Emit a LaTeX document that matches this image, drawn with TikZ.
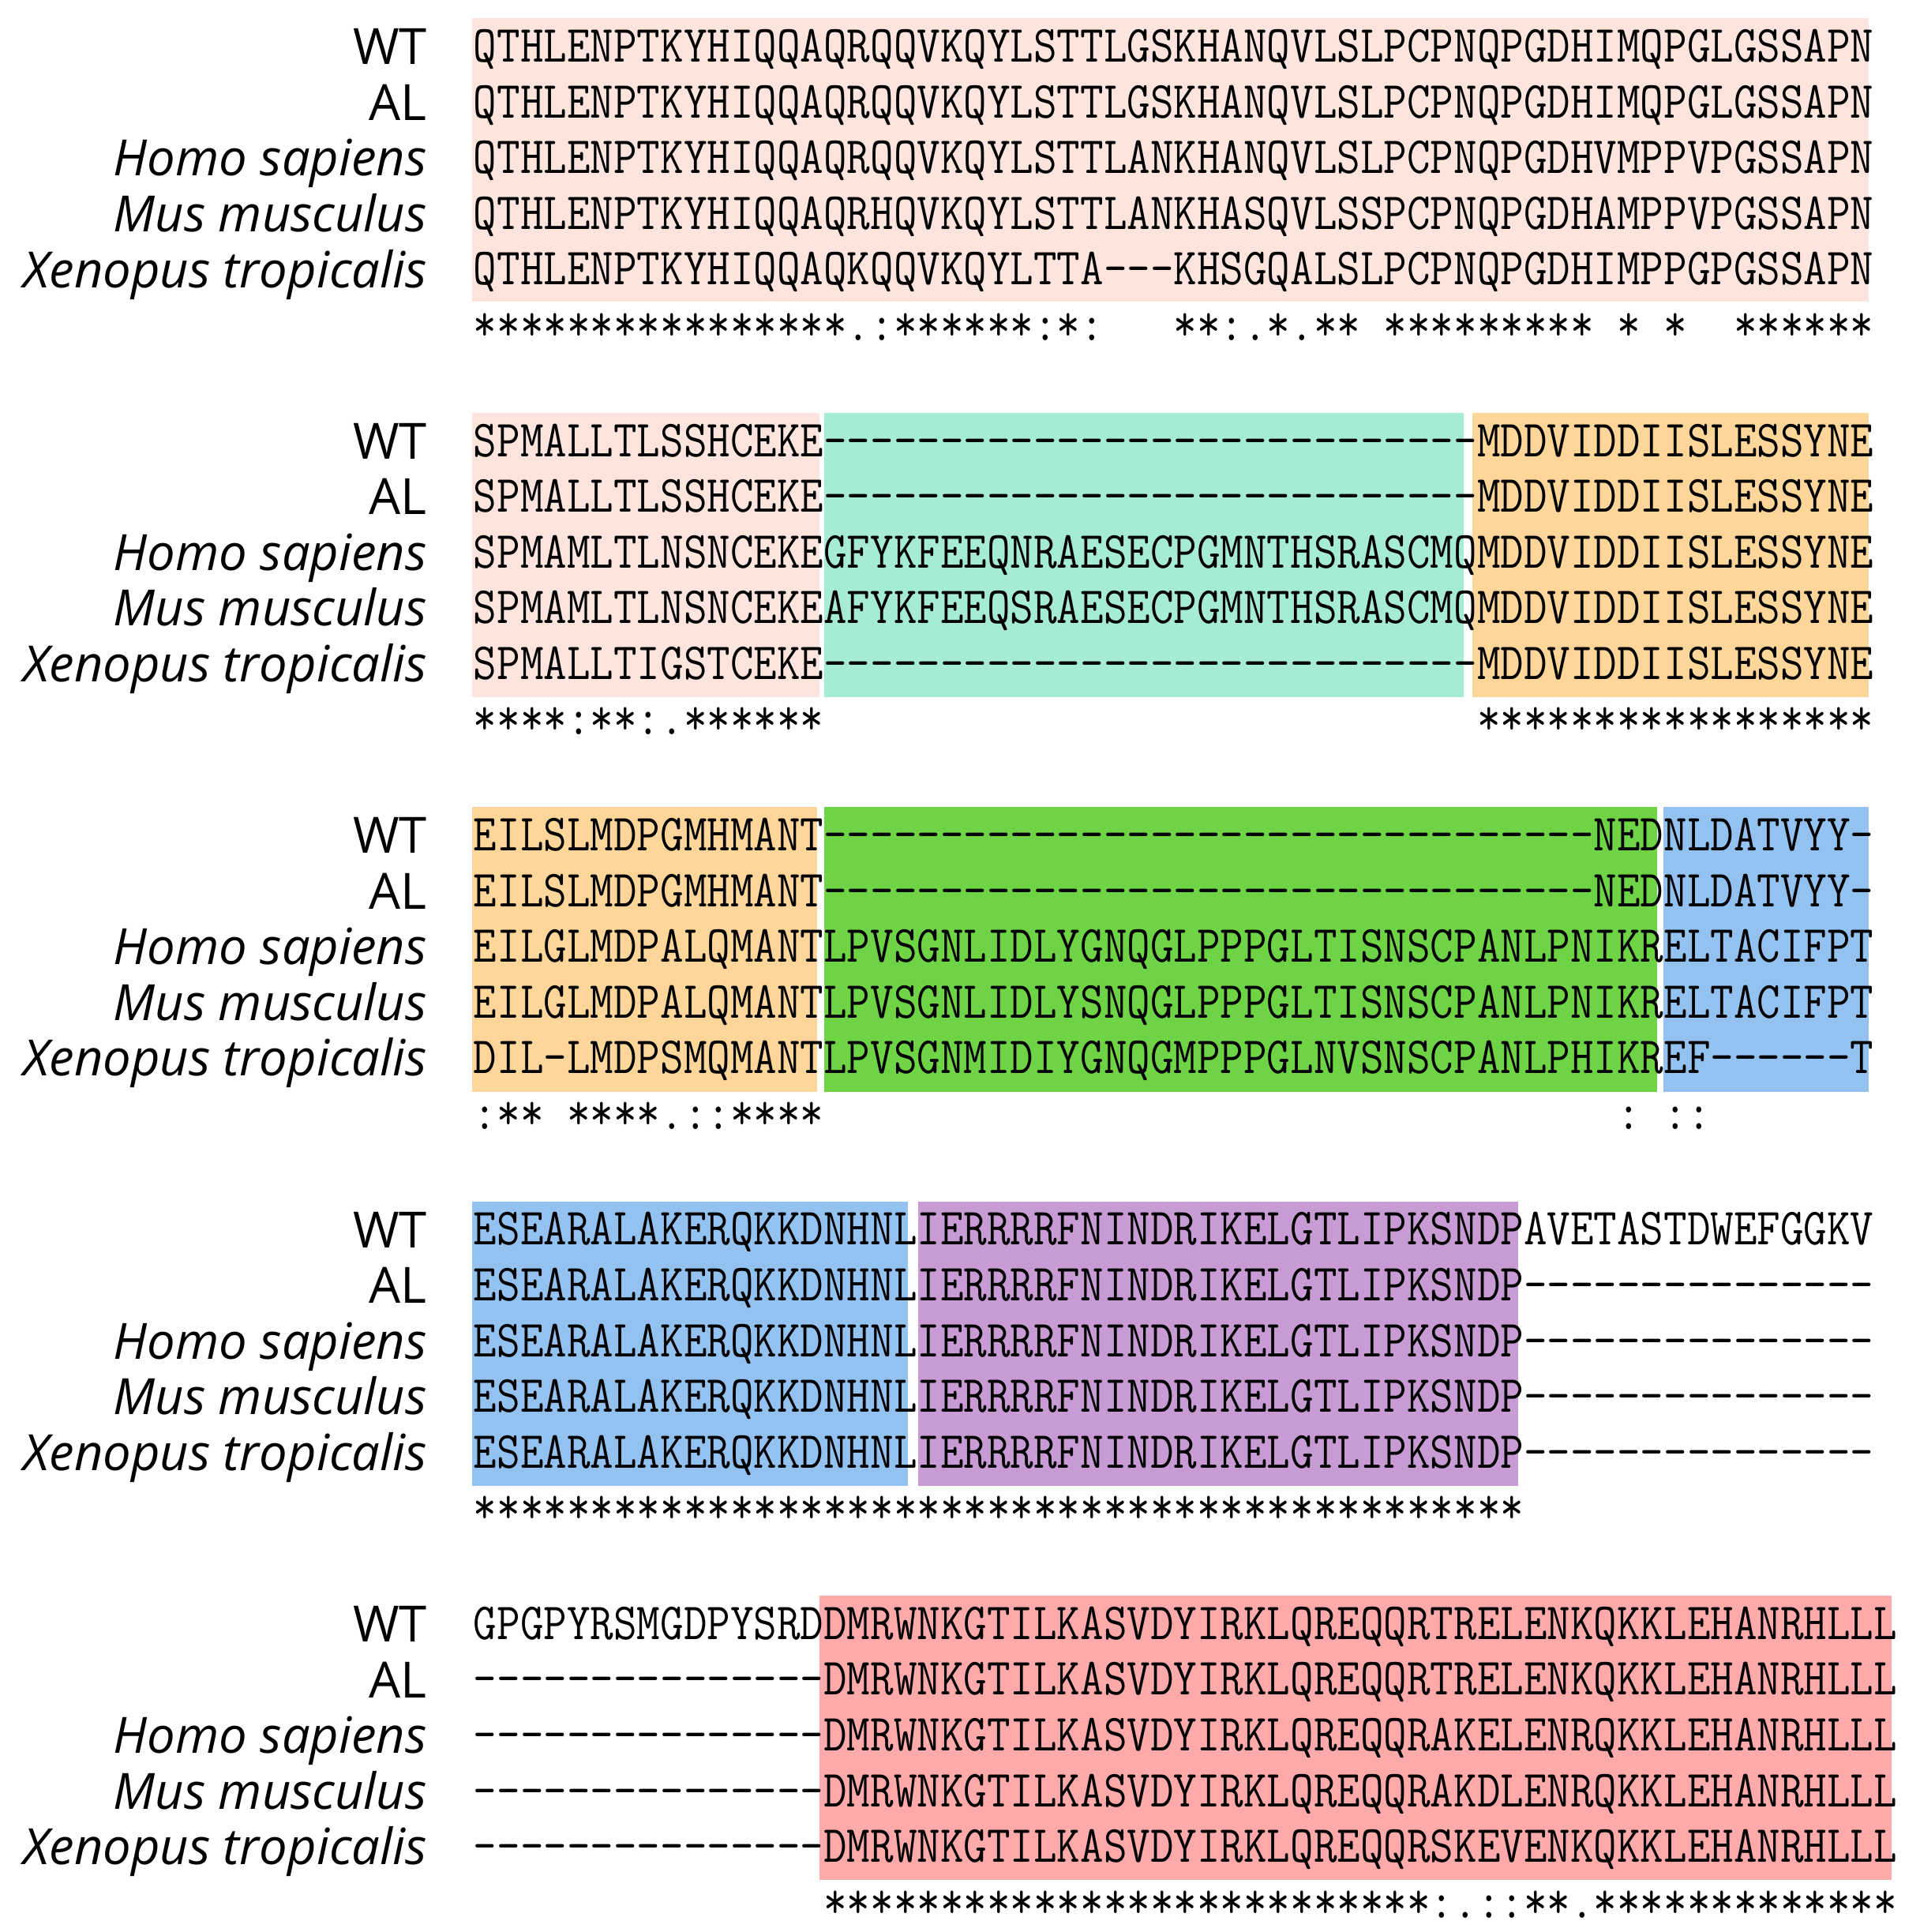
\documentclass[tikz,border=0pt]{standalone}
\usepackage{fontspec}
\newfontfamily\labelfont{Open Sans}
\newfontfamily\seqfont{lmmono12-regular.otf}[FakeStretch=0.868]
\usetikzlibrary{positioning}
\definecolor{pinkbox}{RGB}{253,229,222}
\definecolor{tealbox}{RGB}{166,235,214}
\definecolor{orangebox}{RGB}{255,214,153}
\definecolor{greenbox}{RGB}{110,212,70}
\definecolor{bluebox}{RGB}{148,194,240}
\definecolor{purplebox}{RGB}{200,155,212}
\definecolor{redbox}{RGB}{255,170,170}
% runs of gaps, blanks and stars
\newcommand{\gapn}[1]{\foreach \i in {1,...,#1}{-}}
\newcommand{\skipn}[1]{\foreach \i in {1,...,#1}{~}}
\newcommand{\starn}[1]{\foreach \i in {1,...,#1}{*}}

\begin{document}
\begin{tikzpicture}[x=0.0156cm,y=-0.0156cm,
    seq/.style={anchor=base west,inner sep=0pt,font=\fontsize{18.8}{19}\selectfont\seqfont},
    lab/.style={anchor=base east,inner sep=0pt,font=\fontsize{18}{18}\selectfont\labelfont},
    sp/.style={font=\fontsize{18}{18}\selectfont\labelfont\itshape}]
  \useasboundingbox (0,0) rectangle (1546,1568);

  % domain boxes
  \fill[pinkbox] (383,15) rectangle (1517,245);
  \fill[pinkbox] (383,335) rectangle (665,566);
  \fill[tealbox] (669,335) rectangle (1188,566);
  \fill[orangebox] (1195,335) rectangle (1517,566);
  \fill[orangebox] (383,655) rectangle (663,886);
  \fill[greenbox] (669,655) rectangle (1345,886);
  \fill[bluebox] (1350,655) rectangle (1517,886);
  \fill[bluebox] (383,975) rectangle (737,1206);
  \fill[purplebox] (745,975) rectangle (1232,1206);
  \fill[redbox] (665,1295) rectangle (1535,1526);

  % row names
  \foreach \b in {1,...,5}{
    \pgfmathsetmacro{\yb}{38+320*(\b-1)}
    \node[lab] (wt\b) at (347,{\yb+14.5}) {WT};
    \node[lab] (al\b) at (347,{\yb+59.7}) {AL};
    \node[lab,sp] (hs\b) at (347,{\yb+104.9}) {Homo sapiens};
    \node[lab,sp] (mm\b) at (347,{\yb+150.1}) {Mus musculus};
    \node[lab,sp] (xt\b) at (347,{\yb+195.3}) {Xenopus tropicalis};
  }

  % block 1
  \foreach \s [count=\k from 0] in {
      QTHLENPTKYHIQQAQRQQVKQYLSTTLGSKHANQVLSLPCPNQPGDHIMQPGLGSSAPN,
      QTHLENPTKYHIQQAQRQQVKQYLSTTLGSKHANQVLSLPCPNQPGDHIMQPGLGSSAPN,
      QTHLENPTKYHIQQAQRQQVKQYLSTTLANKHANQVLSLPCPNQPGDHVMPPVPGSSAPN,
      QTHLENPTKYHIQQAQRHQVKQYLSTTLANKHASQVLSSPCPNQPGDHAMPPVPGSSAPN,
      QTHLENPTKYHIQQAQKQQVKQYLTTA\gapn{3}KHSGQALSLPCPNQPGDHIMPPGPGSSAPN,
      \starn{16}.:\starn{6}:*:\skipn{3}**:.*.**~\starn{9}~*~*~~\starn{6}}
    \node[seq] (a\k) at (384,{38+45.2*\k+12.5}) {\s};

  % block 2
  \foreach \s [count=\k from 0] in {
      SPMALLTLSSHCEKE\gapn{28}MDDVIDDIISLESSYNE,
      SPMALLTLSSHCEKE\gapn{28}MDDVIDDIISLESSYNE,
      SPMAMLTLNSNCEKEGFYKFEEQNRAESECPGMNTHSRASCMQMDDVIDDIISLESSYNE,
      SPMAMLTLNSNCEKEAFYKFEEQSRAESECPGMNTHSRASCMQMDDVIDDIISLESSYNE,
      SPMALLTIGSTCEKE\gapn{28}MDDVIDDIISLESSYNE,
      ****:**:.******\skipn{28}\starn{17}}
    \node[seq] (b\k) at (384,{358+45.2*\k+12.5}) {\s};

  % block 3
  \foreach \s [count=\k from 0] in {
      EILSLMDPGMHMANT\gapn{33}NEDNLDATVYY-,
      EILSLMDPGMHMANT\gapn{33}NEDNLDATVYY-,
      EILGLMDPALQMANTLPVSGNLIDLYGNQGLPPPGLTISNSCPANLPNIKRELTACIFPT,
      EILGLMDPALQMANTLPVSGNLIDLYSNQGLPPPGLTISNSCPANLPNIKRELTACIFPT,
      DIL-LMDPSMQMANTLPVSGNMIDIYGNQGMPPPGLNVSNSCPANLPHIKREF\gapn{6}T,
      :**~****.::****\skipn{34}:~::}
    \node[seq] (c\k) at (384,{678+45.2*\k+12.5}) {\s};

  % block 4
  \foreach \s [count=\k from 0] in {
      ESEARALAKERQKKDNHNLIERRRRFNINDRIKELGTLIPKSNDPAVETASTDWEFGGKV,
      ESEARALAKERQKKDNHNLIERRRRFNINDRIKELGTLIPKSNDP\gapn{15},
      ESEARALAKERQKKDNHNLIERRRRFNINDRIKELGTLIPKSNDP\gapn{15},
      ESEARALAKERQKKDNHNLIERRRRFNINDRIKELGTLIPKSNDP\gapn{15},
      ESEARALAKERQKKDNHNLIERRRRFNINDRIKELGTLIPKSNDP\gapn{15},
      \starn{45}}
    \node[seq] (d\k) at (384,{998+45.2*\k+12.5}) {\s};

  % block 5
  \foreach \s [count=\k from 0] in {
      GPGPYRSMGDPYSRDDMRWNKGTILKASVDYIRKLQREQQRTRELENKQKKLEHANRHLLL,
      \gapn{15}DMRWNKGTILKASVDYIRKLQREQQRTRELENKQKKLEHANRHLLL,
      \gapn{15}DMRWNKGTILKASVDYIRKLQREQQRAKELENRQKKLEHANRHLLL,
      \gapn{15}DMRWNKGTILKASVDYIRKLQREQQRAKDLENRQKKLEHANRHLLL,
      \gapn{15}DMRWNKGTILKASVDYIRKLQREQQRSKEVENKQKKLEHANRHLLL,
      \skipn{15}\starn{26}:.::**.\starn{13}}
    \node[seq] (e\k) at (384,{1318+45.2*\k+12.5}) {\s};
\end{tikzpicture}
\end{document}
